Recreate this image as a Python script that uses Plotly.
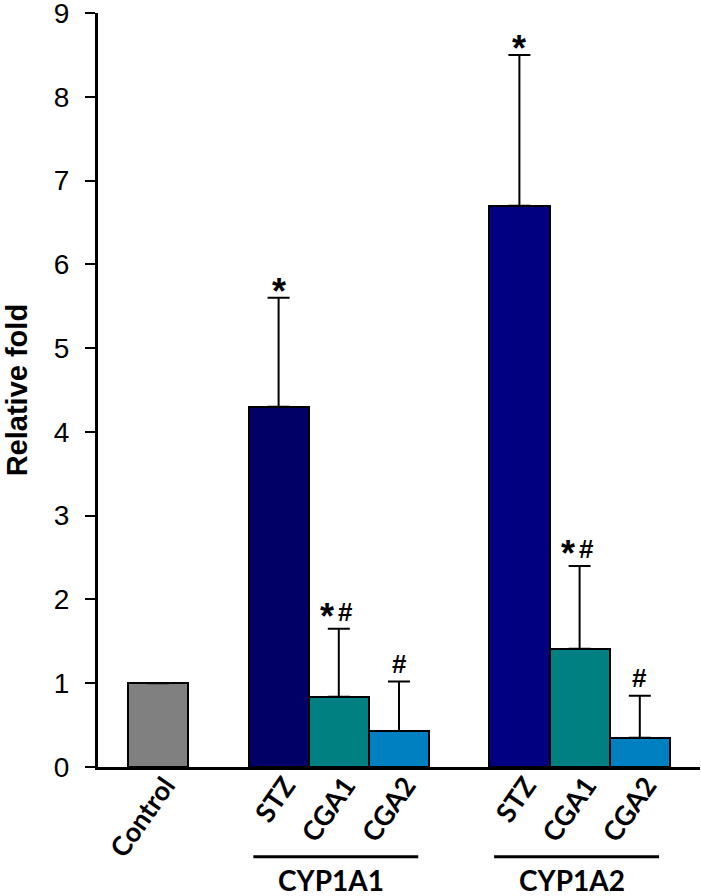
import plotly.graph_objects as go

# Data
categories = ["Control", "STZ", "CGA1", "CGA2", "STZ", "CGA1", "CGA2"]
positions = [0, 2, 3, 4, 6, 7, 8]
values = [1.0, 4.30, 0.84, 0.43, 6.70, 1.41, 0.35]
err_top = [None, 5.60, 1.65, 1.02, 8.50, 2.40, 0.85]
sig_labels = ["", "*", "*#", "#", "*", "*#", "#"]
groups = ["CYP1A1", "CYP1A2"]
group_centers = [2.95, 6.95]
colors = ["#808080", "#000066", "#008080", "#0080C0", "#000080", "#008080", "#0080C0"]

err_plus = [0 if t is None else t - v for t, v in zip(err_top, values)]

fig = go.Figure()
fig.add_trace(go.Bar(
    x=positions, y=values, width=1.0,
    marker=dict(color=colors, line=dict(color="black", width=2)),
    error_y=dict(type="data", symmetric=False, array=err_plus,
                 arrayminus=[0]*len(values), color="black",
                 thickness=2, width=11),
    showlegend=False,
))

annotations = []
star_font = dict(family="Liberation Sans", size=36, color="black")
hash_font = dict(family="Liberation Sans", size=26, color="black")
for p, t, v, s in zip(positions, err_top, values, sig_labels):
    if not s:
        continue
    top = t if t is not None else v
    if s == "*":
        annotations.append(dict(x=p, y=top, xref="x", yref="y", text="<b>*</b>",
                                showarrow=False, yanchor="bottom", yshift=-16,
                                font=star_font))
    elif s == "#":
        annotations.append(dict(x=p, y=top, xref="x", yref="y", text="<b>#</b>",
                                showarrow=False, yanchor="bottom", yshift=1,
                                font=hash_font))
    else:
        annotations.append(dict(x=p, y=top, xref="x", yref="y", text="<b>*</b>",
                                showarrow=False, yanchor="bottom", yshift=-10,
                                xshift=-12, font=star_font))
        annotations.append(dict(x=p, y=top, xref="x", yref="y", text="<b>#</b>",
                                showarrow=False, yanchor="bottom", yshift=0,
                                xshift=7, font=hash_font))

shapes = []
for c, g in zip(group_centers, groups):
    shapes.append(dict(type="line", xref="x", yref="paper",
                       x0=c - 1.37, x1=c + 1.37, y0=-0.119, y1=-0.119,
                       line=dict(color="black", width=3)))
    annotations.append(dict(
        x=c - 0.08, y=-0.1313, xref="x", yref="paper", text="<b>%s</b>" % g,
        showarrow=False, yanchor="top", yshift=5,
        font=dict(family="Lato", size=28, color="black"),
    ))

annotations.append(dict(
    x=-0.134, y=0.5, xref="paper", yref="paper", text="<b>Relative fold</b>",
    textangle=-90, showarrow=False, xanchor="center", yanchor="middle",
    font=dict(family="Liberation Sans", size=29, color="black"),
))

fig.update_layout(
    width=701, height=896,
    margin=dict(l=98, r=1, t=13, b=129, autoexpand=False),
    plot_bgcolor="white", paper_bgcolor="white",
    bargap=0,
    xaxis=dict(
        range=[-1.0, 9.0], tickmode="array", tickvals=positions,
        ticktext=["<b>%s</b>" % c for c in categories],
        tickangle=-55, ticks="", showgrid=False, zeroline=False,
        showline=True, linecolor="black", linewidth=3, automargin=False,
        ticklabelstandoff=-11, ticklabelshift=7,
        tickfont=dict(family="Lato", size=27, color="black"),
    ),
    yaxis=dict(
        range=[0, 9], tickmode="array", tickvals=list(range(10)),
        ticks="outside", ticklen=10, tickwidth=2, tickcolor="black",
        showgrid=False, zeroline=False, showline=True, automargin=False,
        linecolor="black", linewidth=3, ticklabelstandoff=10,
        ticklabeloverflow="allow",
        tickfont=dict(family="Liberation Sans", size=28, color="black"),
    ),
    annotations=annotations,
    shapes=shapes,
)

fig.write_html("out.html", config={"displayModeBar": False},
               post_script="document.body.style.margin='0';")
